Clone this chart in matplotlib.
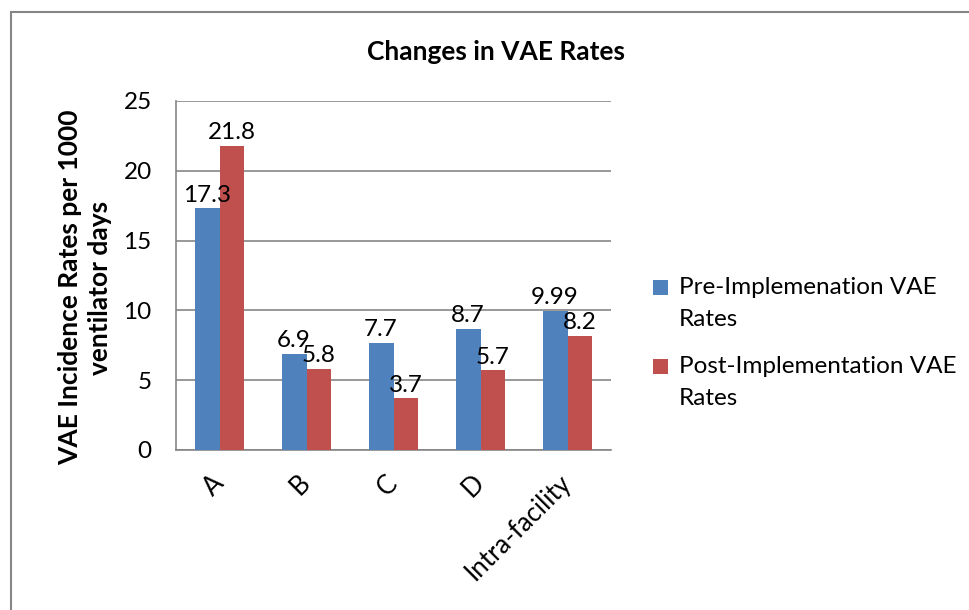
import matplotlib
matplotlib.use("Agg")
import matplotlib.pyplot as plt
import numpy as np
from matplotlib.patches import Rectangle
from matplotlib.legend_handler import HandlerBase

categories = ["A", "B", "C", "D", "Intra-facility"]
pre_values = [17.3, 6.9, 7.7, 8.7, 9.99]
post_values = [21.8, 5.8, 3.7, 5.7, 8.2]
pre_labels = ["17.3", "6.9", "7.7", "8.7", "9.99"]
post_labels = ["21.8", "5.8", "3.7", "5.7", "8.2"]
series_names = ["Pre-Implemenation VAE\nRates", "Post-Implementation VAE\nRates"]
yticks = [0, 5, 10, 15, 20, 25]

BLUE = "#4F81BD"
RED = "#C0504D"
GRID = "#868686"
FONT = "Lato"
FS = 17.5

plt.rcParams["font.family"] = [FONT, "DejaVu Sans"]

W, H = 969, 610
fig = plt.figure(figsize=(W / 100, H / 100), dpi=100)
ax = fig.add_axes([176 / W, (H - 450) / H, 435 / W, 349 / H])

x = np.arange(len(categories))
bw = 1 / 3.5
b1 = ax.bar(x - bw / 2, pre_values, bw, color=BLUE, label=series_names[0], zorder=3)
b2 = ax.bar(x + bw / 2, post_values, bw, color=RED, label=series_names[1], zorder=3)

for bars, labs in ((b1, pre_labels), (b2, post_labels)):
    for r, t in zip(bars, labs):
        ax.annotate(t, (r.get_x() + r.get_width() / 2, r.get_height()),
                    xytext=(0, 2), textcoords="offset points",
                    ha="center", va="bottom", fontsize=FS, color="black")

ax.set_xlim(-0.5, len(categories) - 0.5)
ax.set_ylim(0, 25)
ax.set_yticks(yticks)
ax.set_yticklabels([str(v) for v in yticks], fontsize=FS)
ax.set_xticks(x)
ax.set_xticklabels(categories, fontsize=18.5, rotation=45, ha="right", va="center",
                   rotation_mode="anchor")
ax.tick_params(axis="y", length=0, pad=17.5)
ax.tick_params(axis="x", length=0, pad=21)
ax.grid(axis="y", color=GRID, linewidth=1.2, zorder=0)
ax.set_axisbelow(True)
for s in ("top", "right"):
    ax.spines[s].set_visible(False)
for s in ("left", "bottom"):
    ax.spines[s].set_color(GRID)
    ax.spines[s].set_linewidth(1.2)

fig.text(496 / W, 1 - 52 / H, "Changes in VAE Rates", fontsize=19, fontweight="bold",
         ha="center", va="center")
ax.set_ylabel("VAE Incidence Rates per 1000\nventilator days", fontsize=19,
              fontweight="bold", linespacing=1.25)
ax.yaxis.set_label_coords(-0.148, 0.465)


class TopSquare(HandlerBase):
    def legend_artist(self, legend, orig_handle, fontsize, handlebox):
        s = handlebox.width
        shift = fontsize * 0.72
        r = Rectangle((handlebox.xdescent, handlebox.ydescent + (handlebox.height - s) / 2 + shift),
                      s, s, facecolor=orig_handle.patches[0].get_facecolor(),
                      edgecolor="none", transform=handlebox.get_transform())
        handlebox.add_artist(r)
        return r


leg = fig.legend(handles=[b1, b2], labels=series_names,
                 handler_map={b1: TopSquare(), b2: TopSquare()},
                 loc="upper left", bbox_to_anchor=(653 / W, 1 - 277 / H),
                 frameon=False, fontsize=FS, handlelength=0.6, handleheight=0.6,
                 handletextpad=0.45, labelspacing=1.05, borderpad=0, borderaxespad=0)
for t in leg.get_texts():
    t.set_linespacing(1.65)

fig.add_artist(Rectangle((11 / W, -0.1), 1.2, 1.1 - 12 / H, transform=fig.transFigure,
                         fill=False, edgecolor=GRID, linewidth=1.5))

fig.savefig("out.png", dpi=100)
